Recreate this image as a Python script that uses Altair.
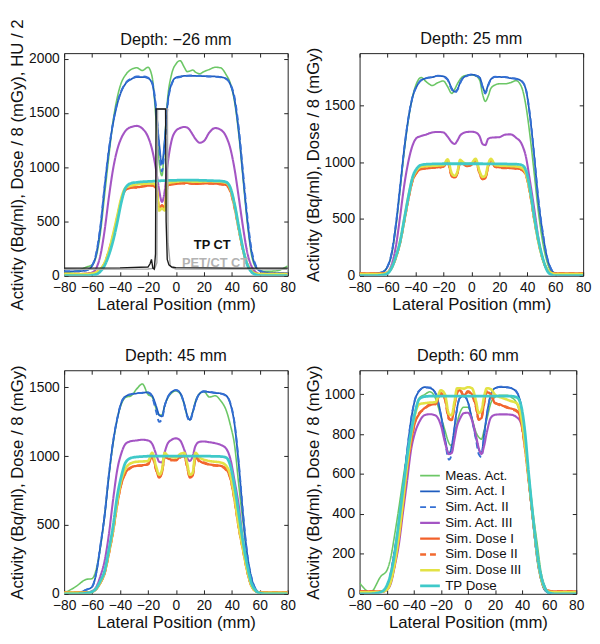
import altair as alt
import pandas as pd

# ---------------- data ----------------
X = [-80, -72, -64, -60, -57, -54, -51, -48, -45, -42,
     -39, -36, -32, -28, -24, -20, -17, -14, -12, -10,
     -8, -6, -3, 0, 3, 6, 8, 10, 12, 14,
     17, 20, 24, 28, 32, 36, 39, 42, 45, 48,
     51, 54, 57, 60, 64, 72, 80]

SERIES = ["Meas. Act.", "Sim. Act. I", "Sim. Act. II", "Sim. Act. III",
          "Sim. Dose I", "Sim. Dose II", "Sim. Dose III", "TP Dose"]
COLORS = ["#6cc766", "#1f5cbf", "#3570d4", "#a455c4",
          "#f2602a", "#f26a30", "#e3e245", "#3fc9c9"]
DASHES = [[1, 0], [1, 0], [6, 4], [1, 0], [1, 0], [6, 4], [1, 0], [1, 0]]
WIDTHS = [1.6, 2.8, 2.0, 1.6, 1.6, 1.6, 1.6, 2.0]

# Depth -26 mm
d26_meas = [30, 40, 80, 100, 180, 400, 750, 1100, 1420, 1640,
            1780, 1850, 1900, 1915, 1890, 1920, 1830, 1400, 1050, 920,
            1250, 1620, 1860, 1950, 1980, 1920, 1880, 1885, 1895, 1875,
            1860, 1880, 1900, 1920, 1915, 1850, 1770, 1600, 1300, 900,
            500, 200, 80, 50, 40, 45, 90]
d26_act1 = [40, 40, 50, 90, 200, 450, 820, 1150, 1400, 1580,
            1700, 1770, 1810, 1830, 1830, 1820, 1770, 1500, 1220, 1030,
            1250, 1580, 1770, 1825, 1835, 1840, 1840, 1840, 1840, 1840,
            1840, 1838, 1836, 1835, 1830, 1815, 1760, 1620, 1330, 930,
            530, 230, 90, 45, 30, 25, 25]
d26_act2 = [40, 40, 50, 95, 210, 460, 830, 1160, 1410, 1590,
            1705, 1775, 1815, 1835, 1835, 1825, 1780, 1520, 1180, 960,
            1200, 1560, 1765, 1820, 1830, 1838, 1842, 1845, 1843, 1840,
            1842, 1840, 1835, 1832, 1828, 1812, 1765, 1640, 1360, 960,
            560, 250, 100, 50, 30, 25, 25]
d26_act3 = [15, 15, 20, 30, 70, 190, 420, 720, 980, 1160,
            1270, 1335, 1370, 1380, 1355, 1280, 1160, 960, 790, 680,
            780, 1020, 1250, 1335, 1360, 1370, 1365, 1340, 1300, 1260,
            1225, 1240, 1320, 1360, 1345, 1280, 1170, 980, 720, 450,
            220, 90, 35, 15, 10, 10, 10]
d26_dose1 = [15, 15, 15, 20, 30, 55, 110, 220, 360, 530,
             700, 790, 810, 815, 820, 830, 830, 810, 620, 650,
             620, 830, 840, 845, 850, 855, 855, 850, 850, 845,
             848, 850, 850, 848, 845, 835, 780, 630, 430, 240,
             110, 45, 20, 15, 15, 15, 15]
d26_dose2 = [15, 15, 15, 20, 32, 58, 115, 225, 365, 535,
             705, 795, 815, 812, 825, 828, 832, 800, 610, 640,
             630, 825, 845, 848, 852, 850, 858, 852, 846, 848,
             850, 852, 848, 850, 842, 832, 775, 625, 425, 235,
             105, 42, 20, 15, 15, 15, 15]
d26_dose3 = [15, 15, 15, 20, 32, 60, 120, 230, 380, 550,
             720, 810, 830, 840, 845, 850, 850, 830, 600, 620,
             600, 850, 860, 865, 870, 872, 870, 868, 866, 865,
             866, 868, 870, 868, 865, 855, 800, 650, 440, 245,
             110, 45, 20, 15, 15, 15, 15]
d26_tp = [0, 0, 0, 5, 12, 40, 95, 190, 320, 490,
          680, 810, 852, 860, 865, 868, 870, 872, 874, 875,
          876, 877, 878, 879, 880, 880, 880, 880, 880, 880,
          879, 878, 876, 874, 872, 862, 810, 660, 450, 250,
          105, 35, 10, 2, 0, 0, 0]

# CT profiles (Depth -26 mm only)
tpct_x = [-80, -40, -20, -18.5, -17.5, -16.5, -15.5, -14.6, -14.2, -7.4, -7.0, -6.2, -5, -3, 0, 20, 40, 60, 80]
tpct_y = [70, 72, 80, 110, 150, 70, 60, 200, 1535, 1535, 500, 150, 100, 80, 75, 72, 70, 70, 70]
petct_x = [-80, -20, -15, -13.6, -13.1, -6.1, -5.6, -4, -2, 0, 80]
petct_y = [60, 62, 70, 120, 1535, 1535, 300, 90, 70, 62, 60]
ct_labels = ["TP CT", "PET/CT CT"]
ct_label_colors = ["#111111", "#b3b3b3"]
ct_label_x = [26, 28]
ct_label_y = [282, 118]

# Depth 25 mm
d25_meas = [10, 15, 30, 80, 190, 430, 760, 1100, 1380, 1580,
            1700, 1745, 1705, 1675, 1700, 1715, 1665, 1605, 1640, 1690,
            1730, 1755, 1765, 1768, 1760, 1720, 1600, 1535, 1580, 1650,
            1680, 1690, 1690, 1700, 1718, 1660, 1500, 1230, 900, 560,
            300, 130, 40, 15, 10, 10, 10]
d25_act1 = [10, 15, 30, 80, 200, 450, 780, 1120, 1390, 1575,
            1670, 1720, 1740, 1748, 1760, 1755, 1730, 1650, 1620, 1640,
            1700, 1740, 1762, 1770, 1765, 1745, 1670, 1615, 1680, 1730,
            1750, 1750, 1748, 1740, 1735, 1712, 1640, 1400, 1050, 660,
            380, 170, 60, 20, 10, 10, 10]
d25_act2 = [10, 15, 30, 82, 205, 455, 785, 1125, 1395, 1580,
            1672, 1722, 1742, 1750, 1762, 1752, 1725, 1640, 1610, 1635,
            1695, 1742, 1760, 1772, 1762, 1740, 1660, 1605, 1672, 1728,
            1752, 1748, 1750, 1742, 1732, 1715, 1645, 1410, 1060, 670,
            390, 175, 62, 20, 10, 10, 10]
d25_act3 = [10, 10, 15, 30, 100, 260, 520, 800, 1010, 1150,
            1215, 1230, 1245, 1262, 1266, 1262, 1225, 1175, 1160, 1190,
            1235, 1255, 1266, 1268, 1262, 1225, 1160, 1150, 1205, 1215,
            1218, 1220, 1242, 1245, 1215, 1160, 1050, 830, 590, 330,
            150, 55, 15, 10, 10, 10, 10]
d25_dose1 = [20, 20, 20, 30, 70, 160, 290, 480, 680, 840,
             910, 940, 945, 950, 955, 960, 1005, 880, 865, 900,
             1000, 985, 965, 975, 1020, 900, 850, 860, 960, 1020,
             960, 955, 950, 948, 945, 935, 890, 730, 500, 300,
             150, 60, 25, 20, 20, 20, 20]
d25_dose2 = [20, 20, 20, 30, 72, 162, 292, 482, 682, 842,
             912, 938, 948, 952, 952, 962, 1000, 875, 862, 905,
             995, 982, 968, 978, 1015, 895, 852, 858, 965, 1015,
             958, 952, 948, 950, 942, 932, 888, 725, 495, 298,
             148, 58, 25, 20, 20, 20, 20]
d25_dose3 = [15, 15, 15, 28, 72, 165, 300, 495, 700, 860,
             930, 960, 965, 968, 970, 975, 1025, 900, 880, 915,
             1020, 1000, 985, 990, 1030, 915, 870, 880, 980, 1030,
             975, 970, 968, 965, 962, 950, 900, 740, 505, 300,
             150, 60, 25, 15, 15, 15, 15]
d25_tp = [0, 0, 5, 20, 70, 170, 300, 500, 700, 870,
          945, 975, 982, 984, 985, 986, 986, 986, 986, 986,
          986, 986, 986, 986, 986, 986, 986, 985, 985, 985,
          985, 984, 984, 983, 982, 975, 930, 760, 520, 315,
          160, 50, 10, 0, 0, 0, 0]

# Depth 45 mm
d45_meas = [5, 50, 105, 110, 180, 340, 570, 850, 1090, 1270,
            1380, 1428, 1440, 1490, 1525, 1450, 1430, 1340, 1300, 1300,
            1370, 1420, 1460, 1475, 1455, 1375, 1295, 1265, 1320, 1400,
            1455, 1470, 1430, 1440, 1404, 1333, 1226, 1080, 790, 520,
            270, 105, 25, 10, 5, 5, 5]
d45_act1 = [5, 5, 30, 50, 150, 350, 570, 860, 1100, 1270,
            1390, 1435, 1450, 1457, 1462, 1464, 1440, 1360, 1300, 1290,
            1370, 1425, 1468, 1480, 1460, 1380, 1300, 1265, 1320, 1390,
            1455, 1470, 1466, 1460, 1457, 1440, 1380, 1230, 940, 580,
            290, 120, 35, 10, 5, 5, 5]
d45_act2 = [5, 5, 30, 52, 155, 355, 575, 865, 1105, 1275,
            1392, 1438, 1452, 1460, 1460, 1462, 1430, 1320, 1250, 1270,
            1365, 1428, 1465, 1482, 1462, 1375, 1292, 1255, 1315, 1392,
            1458, 1472, 1468, 1462, 1455, 1438, 1385, 1240, 950, 590,
            295, 122, 36, 10, 5, 5, 5]
d45_act3 = [5, 5, 10, 20, 50, 130, 240, 430, 680, 900,
            1023, 1090, 1110, 1115, 1120, 1115, 1090, 1010, 960, 955,
            1030, 1090, 1120, 1130, 1115, 1047, 990, 965, 1000, 1075,
            1105, 1107, 1102, 1095, 1083, 1055, 980, 820, 640, 380,
            167, 60, 20, 8, 5, 5, 5]
d45_dose1 = [10, 10, 10, 15, 35, 80, 150, 290, 450, 650,
             800, 880, 920, 930, 935, 940, 1000, 900, 845, 880,
             1000, 985, 975, 970, 995, 1000, 930, 845, 860, 1000,
             965, 950, 940, 935, 930, 905, 840, 680, 480, 320,
             167, 60, 20, 10, 10, 10, 10]
d45_dose2 = [10, 10, 10, 15, 36, 82, 152, 292, 452, 652,
             805, 878, 918, 932, 930, 945, 995, 895, 850, 885,
             995, 990, 970, 975, 990, 1005, 925, 850, 865, 995,
             960, 955, 938, 932, 928, 900, 838, 678, 478, 318,
             165, 58, 20, 10, 10, 10, 10]
d45_dose3 = [8, 8, 8, 14, 38, 85, 160, 300, 465, 670,
             830, 910, 950, 960, 962, 965, 1025, 920, 865, 900,
             1025, 1005, 995, 990, 1015, 1025, 950, 865, 880, 1025,
             990, 975, 965, 960, 955, 930, 860, 695, 490, 325,
             170, 60, 20, 8, 8, 8, 8]
d45_tp = [0, 0, 5, 15, 40, 95, 167, 320, 490, 710,
          857, 955, 988, 995, 998, 1000, 1000, 1000, 1000, 1000,
          1000, 1000, 1000, 1000, 1000, 1000, 1000, 1000, 1000, 1000,
          1000, 1000, 1000, 999, 998, 990, 930, 780, 580, 380,
          210, 80, 25, 5, 0, 0, 0]

# Depth 60 mm
d60_meas = [55, 8, 90, 115, 181, 300, 430, 570, 700, 820,
            910, 980, 998, 1012, 980, 890, 820, 755, 742, 790,
            855, 905, 935, 935, 880, 809, 785, 775, 820, 875,
            957, 985, 995, 995, 985, 955, 890, 790, 594, 410,
            260, 110, 35, 0, 0, 0, 0]
d60_act1 = [5, 5, 10, 30, 100, 220, 350, 520, 705, 870,
            974, 1015, 1035, 1031, 1007, 900, 780, 700, 740, 830,
            930, 980, 992, 960, 875, 780, 725, 705, 800, 900,
            998, 1030, 1036, 1036, 1030, 1010, 950, 780, 560, 370,
            180, 70, 16, 5, 5, 5, 5]
d60_act2 = [5, 5, 10, 32, 104, 224, 355, 525, 710, 872,
            976, 1018, 1032, 1034, 1004, 895, 770, 672, 700, 820,
            928, 982, 990, 962, 872, 772, 700, 685, 790, 895,
            1000, 1028, 1038, 1034, 1032, 1012, 952, 785, 565, 375,
            185, 72, 18, 5, 5, 5, 5]
d60_act3 = [5, 5, 8, 20, 50, 140, 247, 405, 560, 720,
            809, 860, 895, 900, 894, 845, 760, 700, 705, 770,
            840, 875, 905, 907, 870, 790, 730, 700, 742, 810,
            883, 897, 899, 899, 897, 885, 858, 750, 560, 370,
            198, 90, 30, 8, 5, 5, 5]
d60_dose1 = [12, 12, 12, 20, 60, 150, 280, 440, 620, 760,
             860, 900, 930, 945, 955, 1000, 980, 880, 870, 940,
             1010, 1020, 995, 1010, 1000, 940, 875, 880, 960, 1010,
             1000, 955, 948, 935, 928, 918, 874, 740, 560, 380,
             200, 80, 25, 15, 12, 12, 12]
d60_dose2 = [12, 12, 12, 20, 62, 152, 282, 442, 622, 762,
             862, 905, 925, 950, 950, 1005, 975, 875, 872, 945,
             1005, 1025, 990, 1015, 995, 935, 872, 885, 955, 1015,
             995, 958, 945, 938, 925, 915, 870, 738, 558, 378,
             198, 80, 25, 15, 12, 12, 12]
d60_dose3 = [8, 8, 10, 20, 60, 155, 290, 460, 640, 790,
             900, 950, 955, 958, 960, 1020, 1000, 900, 895, 960,
             1030, 1030, 1028, 1035, 1030, 965, 905, 920, 990, 1030,
             1025, 998, 985, 975, 965, 955, 900, 760, 570, 385,
             200, 80, 25, 10, 8, 8, 8]
d60_tp = [0, 0, 10, 40, 100, 205, 360, 520, 680, 810,
          910, 975, 988, 990, 990, 990, 990, 990, 990, 990,
          990, 990, 990, 990, 990, 990, 990, 990, 990, 990,
          990, 990, 990, 990, 990, 985, 950, 820, 594, 390,
          210, 90, 28, 5, 0, 0, 0]

XTICKS = [-80, -60, -40, -20, 0, 20, 40, 60, 80]
FONT = "Liberation Sans"


def long_df(arrays):
    rows = []
    for name, ys in zip(SERIES, arrays):
        for xv, yv in zip(X, ys):
            rows.append({"x": xv, "y": yv, "series": name})
    return pd.DataFrame(rows)


def panel(arrays, title, title_offset, ymax, yticks, ytitle, width, height, legend=False, ct=False):
    df = long_df(arrays)
    leg = None
    if legend:
        leg = alt.Legend(title=None, orient="none", legendX=60, legendY=99,
                         symbolType="stroke", symbolSize=400, clipHeight=16,
                         labelFont=FONT, labelFontSize=13.5, labelColor="#111",
                         rowPadding=0, labelOffset=4)
    xsc = alt.Scale(domain=[-80, 80], nice=False, zero=False)
    ysc = alt.Scale(domain=[0, ymax], nice=False)
    xenc = alt.X("x:Q", scale=xsc,
                 axis=alt.Axis(values=XTICKS, title="Lateral Position (mm)", format="d",
                               labelOverlap=False, labelFlush=False))
    yenc = alt.Y("y:Q", scale=ysc,
                 axis=alt.Axis(values=yticks, title=ytitle, format="d",
                               labelOverlap=False, labelFlush=False))
    xtop = alt.X("x:Q", scale=xsc,
                 axis=alt.Axis(orient="top", values=XTICKS, labels=False, title=None))
    yright = alt.Y("y:Q", scale=ysc,
                   axis=alt.Axis(orient="right", values=yticks, labels=False, title=None))
    xnone = alt.X("x:Q", scale=xsc, axis=None)
    ynone = alt.Y("y:Q", scale=ysc, axis=None)

    lines = alt.Chart(df).mark_line(interpolate="monotone", clip=True).encode(
        x=xenc, y=yenc,
        color=alt.Color("series:N", scale=alt.Scale(domain=SERIES, range=COLORS), legend=leg),
        strokeDash=alt.StrokeDash("series:N", scale=alt.Scale(domain=SERIES, range=DASHES), legend=leg),
        strokeWidth=alt.StrokeWidth("series:N", scale=alt.Scale(domain=SERIES, range=WIDTHS), legend=leg),
    )
    ticks_layer = alt.Chart(df).mark_point(opacity=0, size=1).encode(x=xtop, y=yright)
    if ct:
        tp = alt.Chart(pd.DataFrame({"x": tpct_x, "y": tpct_y})).mark_line(
            color="#1a1a1a", strokeWidth=1.4).encode(x=xnone, y=ynone)
        pet = alt.Chart(pd.DataFrame({"x": petct_x, "y": petct_y})).mark_line(
            color="#a8a8a8", strokeWidth=1.4).encode(x=xnone, y=ynone)
        labs = []
        for t, c, lx, ly in zip(ct_labels, ct_label_colors, ct_label_x, ct_label_y):
            labs.append(alt.Chart(pd.DataFrame({"x": [lx], "y": [ly], "t": [t]})).mark_text(
                font=FONT, fontSize=13, fontWeight="bold", color=c).encode(x=xnone, y=ynone, text="t:N"))
        layers = [lines, ticks_layer, pet, tp] + labs
    else:
        layers = [lines, ticks_layer]
    return alt.layer(*layers).resolve_axis(x="independent", y="independent").properties(
        width=width, height=height, title=alt.TitleParams(title, offset=title_offset))


YT1 = "Activity (Bq/ml), Dose / 8 (mGy), HU / 2"
YT = "Activity (Bq/ml), Dose / 8 (mGy)"

p1 = panel([d26_meas, d26_act1, d26_act2, d26_act3, d26_dose1, d26_dose2, d26_dose3, d26_tp],
           "Depth: \u221226 mm", -30, 2050, [0, 500, 1000, 1500, 2000], YT1, 227, 226, ct=True)
p2 = panel([d25_meas, d25_act1, d25_act2, d25_act3, d25_dose1, d25_dose2, d25_dose3, d25_tp],
           "Depth: 25 mm", 0, 1960, [0, 500, 1000, 1500], YT, 227, 226)
p3 = panel([d45_meas, d45_act1, d45_act2, d45_act3, d45_dose1, d45_dose2, d45_dose3, d45_tp],
           "Depth: 45 mm", 0, 1625, [0, 500, 1000, 1500], YT, 227, 227)
p4 = panel([d60_meas, d60_act1, d60_act2, d60_act3, d60_dose1, d60_dose2, d60_dose3, d60_tp],
           "Depth: 60 mm", 0, 1120, [0, 200, 400, 600, 800, 1000], YT, 220, 227, legend=True)

chart = alt.concat(
    p1, p2, p3, p4, columns=2, spacing={"row": 96, "column": 73}, bounds="flush"
).resolve_scale(
    color="independent", strokeDash="independent", strokeWidth="independent"
).resolve_legend(
    color="independent", strokeDash="independent", strokeWidth="independent"
).properties(
    padding={"left": 0, "top": 5, "right": 0, "bottom": 0}
).configure(
    font=FONT
).configure_view(
    stroke="#222", strokeWidth=1
).configure_title(
    font=FONT, fontSize=16.5, fontWeight="normal", color="#111",
    anchor="middle", frame="group"
).configure_axis(
    labelFont=FONT, labelFontSize=14, labelColor="#111",
    titleFont=FONT, titleFontSize=17, titleFontWeight="normal", titleColor="#111",
    grid=False, domain=False, ticks=True, tickSize=4, tickColor="#222",
    offset=-4, labelPadding=5, titlePadding=2,
)

chart.save("out.html", embed_options={"renderer": "svg", "actions": False})
